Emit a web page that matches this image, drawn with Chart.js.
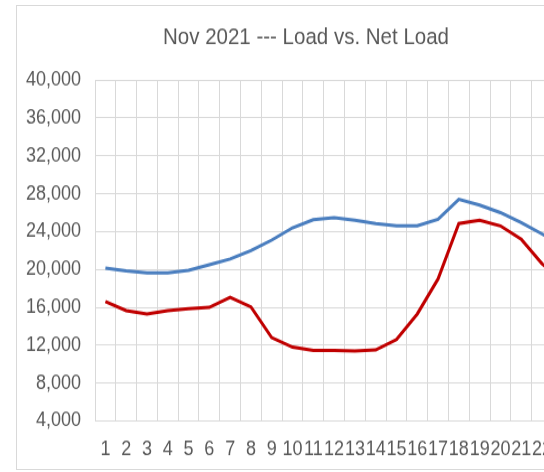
<!DOCTYPE html>
<html>
<head>
<meta charset="utf-8">
<script src="https://cdn.jsdelivr.net/npm/chart.js@4.4.1/dist/chart.umd.min.js"></script>
<style>
  html, body { margin: 0; padding: 0; overflow: hidden; background: #fff; width: 544px; height: 472px; }
  #frame { position: absolute; left: 16px; top: 5px; width: 600px; height: 463px; border: 1px solid #d9d9d9; }
  /* the source picture is a bit stretched vertically, so the chart is too */
  #stretch { position: absolute; left: 1px; top: 0px; transform: scale(1, 1.12); transform-origin: 0 0; }
</style>
</head>
<body>
<div id="frame"><div id="stretch"><canvas id="chart" width="594" height="413"></canvas></div></div>
<script>
// hours of the day
var hours = ['1', '2', '3', '4', '5', '6', '7', '8', '9', '10', '11', '12',
             '13', '14', '15', '16', '17', '18', '19', '20', '21', '22', '23', '24'];

// MW (23 and 24 are cut off on the right)
var load = [20150, 19850, 19650, 19650, 19900, 20500, 21100, 22000, 23100, 24400, 25250, 25450,
            25200, 24850, 24600, 24600, 25300, 27400, 26800, 26000, 24950, 23750, 22500, 21300];
var netLoad = [16600, 15650, 15300, 15650, 15850, 16000, 17050, 16050, 12800, 11800, 11450, 11450,
               11380, 11500, 12600, 15300, 19000, 24850, 25200, 24600, 23200, 20600, 18800, 17600];

var yTicks = { min: 4000, max: 40000, step: 4000 };

var textColor = '#595959';
var gridColor = '#d9d9d9';

Chart.defaults.font.family = '"Liberation Sans", Arial, sans-serif';
Chart.defaults.color = textColor;

var config = {
    type: 'line',
    data: {
        labels: hours,
        datasets: [
            {
                label: 'Load',
                data: load,
                borderColor: '#4a7ebf',
                borderWidth: 3,
                pointRadius: 0,
                tension: 0
            },
            {
                label: 'Net Load',
                data: netLoad,
                borderColor: '#c00000',
                borderWidth: 3,
                pointRadius: 0,
                tension: 0
            }
        ]
    },
    options: {
        responsive: false,
        animation: false,
        layout: { padding: { left: 0, right: 18, top: 0, bottom: 0 } },
        plugins: {
            legend: { display: false },
            tooltip: { enabled: false },
            title: {
                display: true,
                text: 'Nov 2021 --- Load vs. Net Load',
                color: textColor,
                font: { size: 20.5, weight: 'normal' },
                padding: { top: 16, bottom: 25.5 }
            }
        },
        scales: {
            x: {
                offset: true,
                grid: { offset: true, color: gridColor, drawTicks: false },
                border: { color: gridColor },
                ticks: {
                    autoSkip: false,
                    maxRotation: 0,
                    minRotation: 0,
                    padding: 15,
                    font: { size: 18 }
                },
                afterFit: function (scale) { scale.height = 42.5; }
            },
            y: {
                min: yTicks.min,
                max: yTicks.max,
                grid: { color: gridColor, drawTicks: false },
                border: { display: false },
                ticks: {
                    stepSize: yTicks.step,
                    padding: 14,
                    font: { size: 18 },
                    callback: function (value) {
                        return value.toLocaleString('en-US');
                    }
                },
                afterFit: function (scale) { scale.width = 77; }
            }
        }
    }
};

new Chart(document.getElementById('chart'), config);
</script>
</body>
</html>
